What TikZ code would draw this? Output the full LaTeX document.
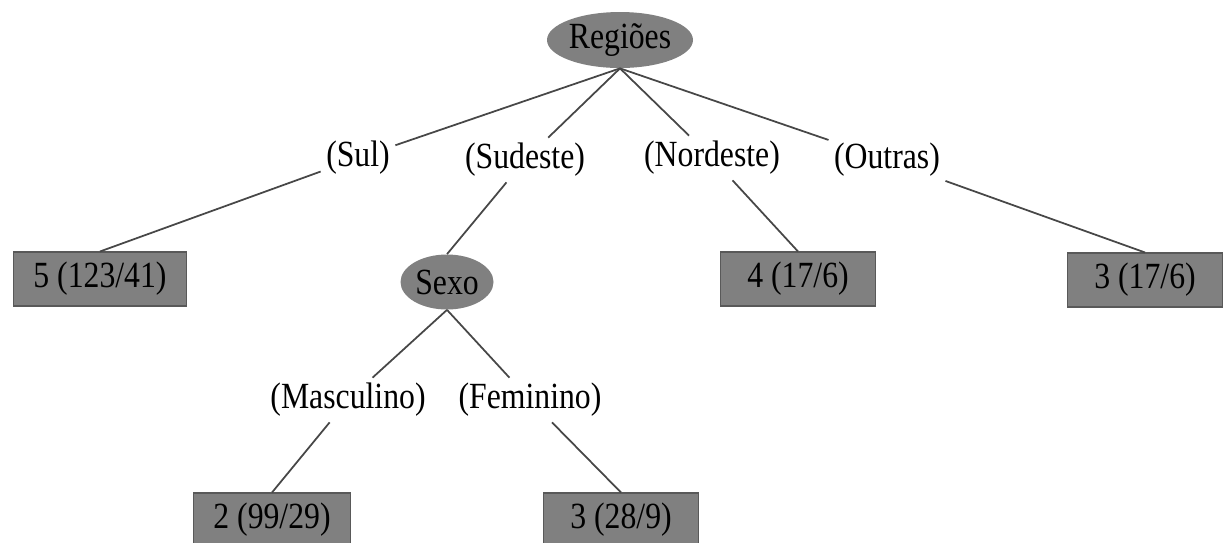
\documentclass[tikz,border=0pt]{standalone}
\usepackage{fontspec}
\setmainfont[FakeStretch=0.86]{Liberation Serif}
\usetikzlibrary{shapes.geometric}
\tikzset{
  test/.style={ellipse,fill=black!50,inner sep=0pt,font=\fontsize{21}{23}\selectfont},
  leaf/.style={rectangle,fill=black!50,draw=black!65,line width=0.6pt,minimum height=1.08cm,minimum width=3.1cm,inner xsep=0.4cm,font=\fontsize{21}{23}\selectfont},
  branch/.style={inner sep=3pt,font=\fontsize{21}{23}\selectfont},
  edge/.style={draw=black!72,line width=1pt}
}
\begin{document}
\begin{tikzpicture}
                    \useasboundingbox (0,0) rectangle (24.6,-10.84);
                    % root and first split
                    \node [test,minimum width=2.92cm,minimum height=1.12cm] (reg) at (12.4,-0.8) {Regiões};
                    \node [branch] (sul) at (7.16,-3.16) {(Sul)};
                    \node [branch] (sudeste) at (10.5,-3.2) {(Sudeste)};
                    \node [branch] (nordeste) at (14.24,-3.16) {(Nordeste)};
                    \node [branch] (outras) at (17.74,-3.2) {(Outras)};
                    \node [leaf] (sulleaf) at (2.0,-5.58) {5 (123/41)};
                    \node [test,minimum width=1.86cm,minimum height=1.1cm] (sexo) at (8.94,-5.64) {Sexo};
                    \node [leaf] (nordesteleaf) at (15.96,-5.58) {4 (17/6)};
                    \node [leaf] (outrasleaf) at (22.9,-5.6) {3 (17/6)};
                    % second split
                    \node [branch] (masc) at (6.96,-8.0) {(Masculino)};
                    \node [branch] (fem) at (10.6,-8.0) {(Feminino)};
                    \node [leaf] (mascleaf) at (5.44,-10.4) {2 (99/29)};
                    \node [leaf] (femleaf) at (12.42,-10.4) {3 (28/9)};
                    \draw [edge] (reg.south)--(sul);
                    \draw [edge] (reg.south)--(sudeste);
                    \draw [edge] (reg.south)--(nordeste);
                    \draw [edge] (reg.south)--(outras);
                    \draw [edge] (sul)--(sulleaf.north);
                    \draw [edge] (sudeste)--(sexo.north);
                    \draw [edge] (nordeste)--(nordesteleaf.north);
                    \draw [edge] (outras)--(outrasleaf.north);
                    \draw [edge] (sexo.south)--(masc);
                    \draw [edge] (sexo.south)--(fem);
                    \draw [edge] (masc)--(mascleaf.north);
                    \draw [edge] (fem)--(femleaf.north);
                \end{tikzpicture}
\end{document}
